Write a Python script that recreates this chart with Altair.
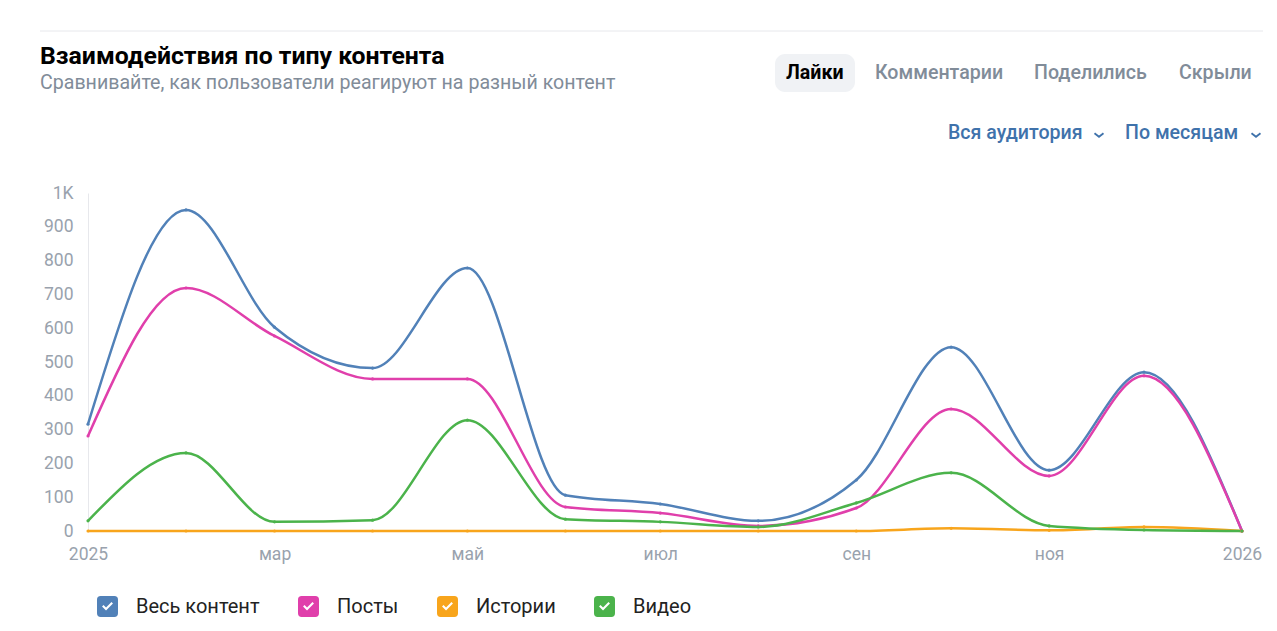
import altair as alt
import pandas as pd

# ---- data ----
months = ["2025-01-01", "2025-02-01", "2025-03-01", "2025-04-01", "2025-05-01",
          "2025-06-01", "2025-07-01", "2025-08-01", "2025-09-01", "2025-10-01",
          "2025-11-01", "2025-12-01", "2026-01-01"]
series_names = ["Весь контент", "Посты", "Истории", "Видео"]
all_content = [316, 950, 603, 482, 778, 106, 80, 30, 151, 544, 180, 470, 0]
posts = [281, 719, 577, 450, 450, 71, 53, 15, 68, 361, 163, 459, 0]
stories = [0, 0, 0, 0, 0, 0, 0, 0, 0, 8, 2, 12, 0]
video = [30, 231, 27, 32, 328, 35, 27, 12, 83, 172, 15, 3, 0]
colors = ["#5181b8", "#e03fab", "#f8a51c", "#4bb34b"]

y_ticks = list(range(0, 1001, 100))
x_tick_dates = ["2025-01-01", "2025-03-01", "2025-05-01", "2025-07-01",
                "2025-09-01", "2025-11-01", "2026-01-01"]
month_abbr = ["янв", "фев", "мар", "апр", "май", "июн", "июл", "авг", "сен", "окт", "ноя", "дек"]

title_text = "Взаимодействия по типу контента"
subtitle_text = "Сравнивайте, как пользователи реагируют на разный контент"
tabs = ["Лайки", "Комментарии", "Поделились", "Скрыли"]
dropdowns = ["Вся аудитория", "По месяцам"]

rows = []
for name, vals in zip(series_names, [all_content, posts, stories, video]):
    for m, v in zip(months, vals):
        rows.append({"month": m, "value": v, "series": name})
df = pd.DataFrame(rows)

FONT = "Roboto"
GRAY = "#99a2ad"

# rounded square with a check-mark hole (opposite winding)
checkbox_path = ("M-0.65,-1L0.65,-1Q1,-1,1,-0.65L1,0.65Q1,1,0.65,1L-0.65,1Q-1,1,-1,0.65"
                 "L-1,-0.65Q-1,-1,-0.65,-1Z"
                 "M-0.52,0.0L-0.14,0.38L0.52,-0.28L0.38,-0.42L-0.14,0.1L-0.38,-0.14Z")
chevron_path = "M-1,-0.4L0,0.4L1,-0.4"

label_expr = ("utcmonth(datum.value) == 0 ? utcFormat(datum.value, '%Y') : "
              "[" + ",".join("'%s'" % m for m in month_abbr) + "][utcmonth(datum.value)]")

x_enc = alt.X("month:T",
              scale=alt.Scale(type="utc",
                              domain=[alt.DateTime(year=2025, month=1, date=1, utc=True),
                                      alt.DateTime(year=2026, month=1, date=1, utc=True)]),
              axis=alt.Axis(values=[alt.DateTime(year=int(d[:4]), month=int(d[5:7]), date=1, utc=True)
                                    for d in x_tick_dates],
                            labelExpr=label_expr, grid=False, ticks=False, domain=False,
                            labelFlush=False, labelOverlap=False,
                            labelPadding=14, labelFontSize=17.5, labelColor=GRAY,
                            labelFont=FONT, title=None))
y_enc = alt.Y("value:Q",
              scale=alt.Scale(domain=[0, 1000], nice=False),
              axis=alt.Axis(values=y_ticks, tickCount=11,
                            labelExpr="datum.value == 1000 ? '1K' : format(datum.value, 'd')",
                            grid=False, ticks=False, domain=True, domainColor="#e7e8ec",
                            labelOverlap=False, labelFlush=False,
                            labelPadding=15, labelFontSize=17.5, labelColor=GRAY,
                            labelFont=FONT, title=None))

color_scale = alt.Scale(domain=series_names, range=colors)

lines = alt.Chart(df).mark_line(interpolate="monotone", strokeWidth=2.5).encode(
    x=x_enc, y=y_enc,
    color=alt.Color("series:N", scale=color_scale, sort=series_names,
                    legend=alt.Legend(orient="none", legendX=9, legendY=403,
                                      direction="horizontal", title=None,
                                      symbolType=checkbox_path, symbolSize=441,
                                      symbolOpacity=1, symbolStrokeWidth=0,
                                      labelFont=FONT, labelFontSize=20, labelColor="#222222",
                                      labelOffset=18, columnPadding=38, padding=0)),
)

points = alt.Chart(df).mark_point(filled=True, size=10, opacity=1).encode(
    x=x_enc, y=y_enc,
    color=alt.Color("series:N", scale=color_scale, sort=series_names),
)

one = pd.DataFrame({"k": [0]})


def txt(text, x, y, size, color, weight="normal", align="left", font=FONT):
    return alt.Chart(pd.DataFrame({"t": [text]})).mark_text(
        align=align, baseline="middle", fontSize=size, color=color, fontWeight=weight, font=font
    ).encode(text="t:N", x=alt.value(x), y=alt.value(y))


def chevron(x, y):
    return alt.Chart(one).mark_point(shape=chevron_path, filled=False, size=81,
                                     strokeWidth=1.8, color="#3f72ab", opacity=1).encode(
        x=alt.value(x), y=alt.value(y))


separator = alt.Chart(one).mark_rule(color="#e7e8ec", strokeWidth=1).encode(
    x=alt.value(-48), x2=alt.value(1175), y=alt.value(-162))
pill = alt.Chart(one).mark_rect(color="#f0f2f5", cornerRadius=10).encode(
    x=alt.value(687), x2=alt.value(767), y=alt.value(-139), y2=alt.value(-101))

texts = [
    txt(title_text, -48, -136, 24.8, "#000000", "bold"),
    txt(subtitle_text, -48, -110, 19.6, "#818c99"),
    txt(tabs[0], 698, -120, 19.6, "#000000", "bold"),
    txt(tabs[1], 787, -120, 19.6, "#818c99", 500),
    txt(tabs[2], 946, -120, 19.6, "#818c99", 500),
    txt(tabs[3], 1091, -120, 19.6, "#818c99", 500),
    txt(dropdowns[0], 860, -60, 19.6, "#3f72ab", 500),
    txt(dropdowns[1], 1037, -60, 19.6, "#3f72ab", 500),
    chevron(1011, -58),
    chevron(1168, -58),
]

chart = alt.layer(separator, pill, *texts, lines, points).properties(
    width=1154, height=338,
    autosize=alt.AutoSizeParams(type="none"),
    padding={"left": 80, "top": 185, "right": 27, "bottom": 92},
    background="white",
).configure_view(strokeWidth=0)

chart.save("out.html", embed_options={"renderer": "svg", "actions": False})
